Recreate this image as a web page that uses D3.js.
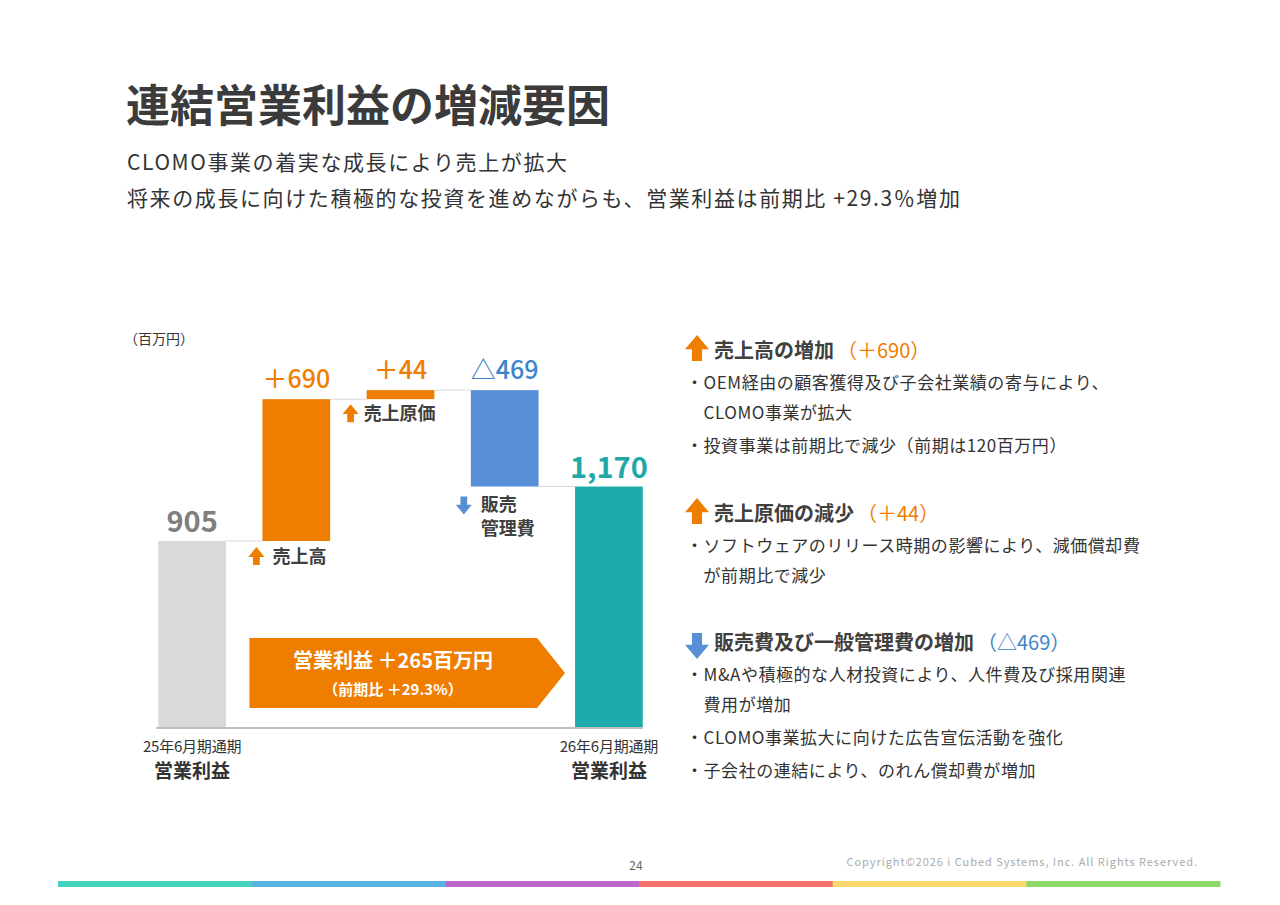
<!DOCTYPE html>
<html>
<head>
<meta charset="utf-8">
<script src="https://cdn.jsdelivr.net/npm/d3@7"></script>
<style>
  body { margin: 0; background: #fff; }
  svg { font-family: "Noto Sans CJK JP", "Noto Sans", sans-serif; }
</style>
</head>
<body>
<svg id="slide" width="1280" height="905"></svg>
<script>
// waterfall data (百万円)
var categories = ["前期", "売上高", "売上原価", "販売管理費", "当期"];
var deltas = [905, 690, 44, -469, 1170];
var kinds = ["total", "up", "up", "down", "total"];
var valueLabels = ["905", "＋690", "＋44", "△469", "1,170"];
var axisLabels = [["25年6月期通期", "営業利益"], ["26年6月期通期", "営業利益"]];

var notes = [
  {head: "売上高の増加", val: "（＋690）", kind: "up",
   lines: ["・OEM経由の顧客獲得及び子会社業績の寄与により、", "　CLOMO事業が拡大", "・投資事業は前期比で減少（前期は120百万円）"]},
  {head: "売上原価の減少", val: "（＋44）", kind: "up",
   lines: ["・ソフトウェアのリリース時期の影響により、減価償却費", "　が前期比で減少"]},
  {head: "販売費及び一般管理費の増加", val: "（△469）", kind: "down",
   lines: ["・M&Aや積極的な人材投資により、人件費及び採用関連", "　費用が増加", "・CLOMO事業拡大に向けた広告宣伝活動を強化", "・子会社の連結により、のれん償却費が増加"]}
];
var footerColors = ["#43d3bf", "#5ab4e2", "#c068ca", "#f6736d", "#fbd96e", "#8fd968"];

var colors = {total0: "#d9d9d9", up: "#ef7d00", down: "#568fd6", total1: "#1fabab"};
var labelColors = ["#7f7f7f", "#ef7d00", "#ef7d00", "#3d85c9", "#1fa8a8"];

var svg = d3.select("#slide");

// cumulative start/end
var run = 0;
var steps = deltas.map(function(d, i) {
  var s, e;
  if (kinds[i] === "total") { s = 0; e = d; run = d; }
  else { s = run; e = run + d; run = e; }
  return {cat: categories[i], start: s, end: e, kind: kinds[i], i: i};
});

var x = d3.scaleBand().domain(categories).range([140, 661])
  .paddingInner(0.35).paddingOuter(0.175);
var y = d3.scaleLinear().domain([0, 1700]).range([727, 377.6]);

// title
svg.append("text").attr("x", 126).attr("y", 122)
  .attr("font-size", 44).attr("font-weight", 700).attr("fill", "#3b3b3b")
  .text("連結営業利益の増減要因");
svg.append("text").attr("x", 127).attr("y", 170)
  .attr("font-size", 21).attr("letter-spacing", 1.6).attr("fill", "#333")
  .text("CLOMO事業の着実な成長により売上が拡大");
svg.append("text").attr("x", 127).attr("y", 206)
  .attr("font-size", 21).attr("letter-spacing", 1.6).attr("fill", "#333")
  .text("将来の成長に向けた積極的な投資を進めながらも、営業利益は前期比 +29.3％増加");

svg.append("text").attr("x", 124).attr("y", 344)
  .attr("font-size", 14).attr("fill", "#333").text("（百万円）");

// connectors
var g = svg.append("g");
steps.slice(0, -1).forEach(function(d, i) {
  var lvl = d.end;
  g.append("line")
    .attr("x1", x(d.cat) + x.bandwidth()).attr("x2", x(categories[i + 1]))
    .attr("y1", y(lvl)).attr("y2", y(lvl))
    .attr("stroke", "#d9d9d9").attr("stroke-width", 1);
});

// bars
g.selectAll("rect.bar").data(steps).enter().append("rect")
  .attr("class", "bar")
  .attr("x", function(d) { return x(d.cat); })
  .attr("width", x.bandwidth())
  .attr("y", function(d) { return y(Math.max(d.start, d.end)); })
  .attr("height", function(d) { return Math.abs(y(d.start) - y(d.end)); })
  .attr("fill", function(d) {
    if (d.kind === "total") return d.i === 0 ? colors.total0 : colors.total1;
    return colors[d.kind];
  });

// baseline
g.append("line").attr("x1", x(categories[0]) - 2).attr("x2", x(categories[4]) + x.bandwidth())
  .attr("y1", y(0) + 1).attr("y2", y(0) + 1)
  .attr("stroke", "#bfbfbf").attr("stroke-width", 2);

// value labels
g.selectAll("text.val").data(steps).enter().append("text")
  .attr("class", "val")
  .attr("x", function(d) { return x(d.cat) + x.bandwidth() / 2; })
  .attr("y", function(d) { return y(Math.max(d.start, d.end)) - (d.kind === "total" ? 9 : 11); })
  .attr("text-anchor", "middle")
  .attr("font-size", function(d) { return d.kind === "total" ? 29 : 25; })
  .attr("font-weight", function(d) { return d.kind === "total" ? 700 : 500; })
  .attr("fill", function(d) { return labelColors[d.i]; })
  .text(function(d) { return valueLabels[d.i]; });

function arrowPath(cx, cy, w, h, dir) {
  // block arrow: head takes ~55% of height
  var hh = h * 0.55, sw = w * 0.42;
  var pts = [[0, -h / 2], [w / 2, -h / 2 + hh], [sw / 2, -h / 2 + hh], [sw / 2, h / 2],
             [-sw / 2, h / 2], [-sw / 2, -h / 2 + hh], [-w / 2, -h / 2 + hh]];
  return "M" + pts.map(function(p) { return [cx + p[0], cy + p[1] * dir]; }).join("L") + "Z";
}

// factor labels
var fl = [
  null,
  {dx: -6, tx: 10, dy: 15, lines: ["売上高"]},
  {dx: -16, tx: -3, dy: 14, lines: ["売上原価"]},
  {dx: -7, tx: 10, dy: 17, lines: ["販売", "管理費"]},
  null
];
steps.forEach(function(d, i) {
  var f = fl[i];
  if (!f) return;
  var bx = x(d.cat);
  var by = y(Math.min(d.start, d.end)) + f.dy;
  g.append("path").attr("d", arrowPath(bx + f.dx, by + (d.kind === "down" ? 2 : 0), 16, 18, d.kind === "down" ? -1 : 1))
    .attr("fill", d.kind === "down" ? colors.down : colors.up);
  f.lines.forEach(function(t, k) {
    g.append("text").attr("x", bx + f.tx).attr("y", by + 7 + k * 24)
      .attr("font-size", 18).attr("font-weight", 700).attr("fill", "#404040").text(t);
  });
});

// axis labels
[0, 4].forEach(function(ci, k) {
  var cx = x(categories[ci]) + x.bandwidth() / 2;
  g.append("text").attr("x", cx).attr("y", 752).attr("text-anchor", "middle")
    .attr("font-size", 15).attr("fill", "#333").attr("letter-spacing", -0.2).text(axisLabels[k][0]);
  g.append("text").attr("x", cx).attr("y", 778).attr("text-anchor", "middle")
    .attr("font-size", 19).attr("font-weight", 700).attr("fill", "#333").text(axisLabels[k][1]);
});

// summary arrow
var ax0 = x(categories[1]) - 13, ax1 = x(categories[4]) - 10, ay0 = 638, ay1 = 708;
g.append("path")
  .attr("d", "M" + ax0 + "," + ay0 + "L" + (ax1 - 28) + "," + ay0 + "L" + ax1 + "," + ((ay0 + ay1) / 2) +
    "L" + (ax1 - 28) + "," + ay1 + "L" + ax0 + "," + ay1 + "Z")
  .attr("fill", "#ef7d00");
g.append("text").attr("x", 393).attr("y", 668).attr("text-anchor", "middle")
  .attr("font-size", 20).attr("font-weight", 700).attr("fill", "#fff").text("営業利益 ＋265百万円");
g.append("text").attr("x", 393).attr("y", 695).attr("text-anchor", "middle")
  .attr("font-size", 15).attr("font-weight", 700).attr("fill", "#fff").text("（前期比 ＋29.3%）");

// right notes
var noteY = [351, 514, 643];
notes.forEach(function(n, i) {
  var ny = noteY[i];
  svg.append("path").attr("d", arrowPath(697, ny - 3 + (n.kind === "down" ? 6 : 0), 24, 26, n.kind === "down" ? -1 : 1))
    .attr("fill", n.kind === "down" ? colors.down : colors.up);
  var t = svg.append("text").attr("x", 714).attr("y", ny + 7).attr("font-size", 20);
  t.append("tspan").attr("font-weight", 700).attr("fill", "#404040").text(n.head);
  t.append("tspan").attr("dx", 3).attr("fill", n.kind === "down" ? "#3d85c9" : "#ef7d00").text(n.val);
  var ly = ny + 38;
  n.lines.forEach(function(l, k) {
    svg.append("text").attr("x", 686).attr("y", ly).attr("font-size", 17)
      .attr("letter-spacing", 0.55).attr("fill", "#333").text(l);
    var next = n.lines[k + 1];
    ly += (next && next.indexOf("・") === 0) ? 33 : 30;
  });
});

// footer
svg.append("text").attr("x", 636).attr("y", 870).attr("text-anchor", "middle")
  .attr("font-size", 12).attr("fill", "#666").text("24");
svg.append("text").attr("x", 1198).attr("y", 866).attr("text-anchor", "end")
  .attr("font-size", 11).attr("fill", "#aaa").attr("letter-spacing", 0.95)
  .text("Copyright©2026 i Cubed Systems, Inc. All Rights Reserved.");
var fx = d3.scaleBand().domain(d3.range(footerColors.length)).range([58, 1220]);
svg.selectAll("rect.foot").data(footerColors).enter().append("rect")
  .attr("x", function(d, i) { return fx(i); }).attr("width", fx.bandwidth() + 0.5)
  .attr("y", 881).attr("height", 6).attr("fill", function(d) { return d; });
</script>
</body>
</html>
